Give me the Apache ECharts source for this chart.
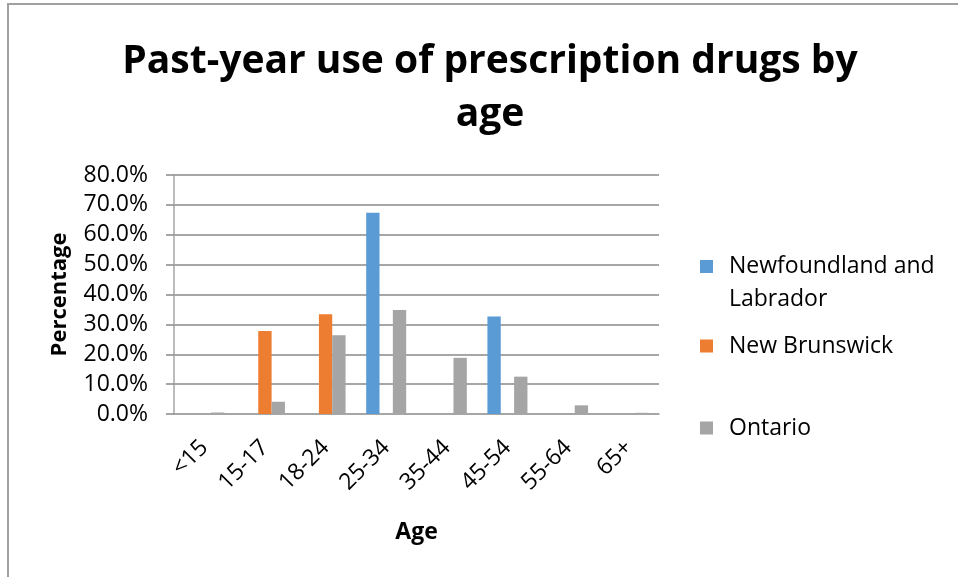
<!DOCTYPE html>
<html>
<head>
<meta charset="utf-8">
<script src="https://cdn.jsdelivr.net/npm/echarts@6/dist/echarts.min.js"></script>
<style>
  html, body { margin: 0; padding: 0; background: #ffffff; }
  #chart { width: 958px; height: 577px; }
</style>
</head>
<body>
<div id="chart"></div>
<script>
// Age groups on the category axis
var categories = ['<15', '15-17', '18-24', '25-34', '35-44', '45-54', '55-64', '65+'];

// Past-year use (%) by province
var newfoundland = [null, null, null, 67.4, null, 32.6, null, null];
var newBrunswick = [null, 27.8, 33.4, null, null, null, null, null];
var ontario = [0.5, 4.1, 26.4, 34.8, 18.8, 12.5, 2.9, 0.4];

var seriesNames = ['Newfoundland and Labrador', 'New Brunswick', 'Ontario'];
var seriesColors = ['#5B9BD5', '#ED7D31', '#A5A5A5'];

// Percent axis ticks
var yMin = 0, yMax = 80, yStep = 10;

var FONT = 'Open Sans';
var chart = echarts.init(document.getElementById('chart'));

// One legend block per series so each entry sits on its own row;
// the long name wraps onto a second line under its first line.
function legendFor(i, top) {
  return {
    data: [seriesNames[i]],
    left: 700,
    top: top,
    padding: 0,
    orient: 'vertical',
    itemWidth: 13,
    itemHeight: 13,
    icon: 'rect',
    formatter: function (name) {
      return name === 'Newfoundland and Labrador' ? ' \nNewfoundland and\nLabrador' : name;
    },
    textStyle: {
      fontFamily: FONT,
      fontSize: 23,
      color: '#000000',
      lineHeight: 33,
      padding: [0, 0, 0, 11]
    }
  };
}

var option = {
  backgroundColor: '#ffffff',
  animation: false,
  title: {
    text: 'Past-year use of prescription drugs by\nage',
    left: 490,
    top: 35,
    padding: 0,
    textAlign: 'center',
    textStyle: {
      fontFamily: FONT,
      fontWeight: 'bold',
      fontSize: 39,
      lineHeight: 53,
      color: '#000000'
    }
  },
  legend: [
    legendFor(0, 217),
    legendFor(1, 329.5),
    legendFor(2, 411.5)
  ],
  grid: { left: 174, right: 299, top: 175, bottom: 163, containLabel: false },
  xAxis: {
    type: 'category',
    data: categories,
    name: 'Age',
    nameLocation: 'middle',
    nameGap: 107,
    nameTextStyle: { fontFamily: FONT, fontWeight: 'bold', fontSize: 23, color: '#000000', verticalAlign: 'top' },
    axisLine: { lineStyle: { color: '#a6a6a6', width: 1.5 } },
    axisTick: { show: false },
    axisLabel: { rotate: 45, margin: 30, interval: 0, fontFamily: FONT, fontSize: 23, color: '#000000' }
  },
  yAxis: {
    type: 'value',
    min: yMin,
    max: yMax,
    interval: yStep,
    name: 'Percentage',
    nameLocation: 'middle',
    nameGap: 103,
    nameTextStyle: { fontFamily: FONT, fontWeight: 'bold', fontSize: 22, color: '#000000' },
    axisLine: { show: true, lineStyle: { color: '#a6a6a6', width: 1.5 } },
    axisTick: { show: true, length: 8, lineStyle: { color: '#898989', width: 1.5 } },
    axisLabel: {
      margin: 26,
      fontFamily: FONT,
      fontSize: 23,
      color: '#000000',
      formatter: function (v) { return v.toFixed(1) + '%'; }
    },
    splitLine: { lineStyle: { color: '#898989', width: 1.5 } }
  },
  series: [
    { name: seriesNames[0], type: 'bar', data: newfoundland, itemStyle: { color: seriesColors[0] }, barGap: '0%', barCategoryGap: '34%' },
    { name: seriesNames[1], type: 'bar', data: newBrunswick, itemStyle: { color: seriesColors[1] }, barGap: '0%', barCategoryGap: '34%' },
    { name: seriesNames[2], type: 'bar', data: ontario, itemStyle: { color: seriesColors[2] }, barGap: '0%', barCategoryGap: '34%' }
  ],
  graphic: [
    {
      type: 'polyline',
      silent: true,
      shape: { points: [[8, 577], [8, 4], [958, 4]] },
      style: { stroke: '#a0a0a0', lineWidth: 2, fill: null }
    }
  ]
};

chart.setOption(option);
</script>
</body>
</html>
